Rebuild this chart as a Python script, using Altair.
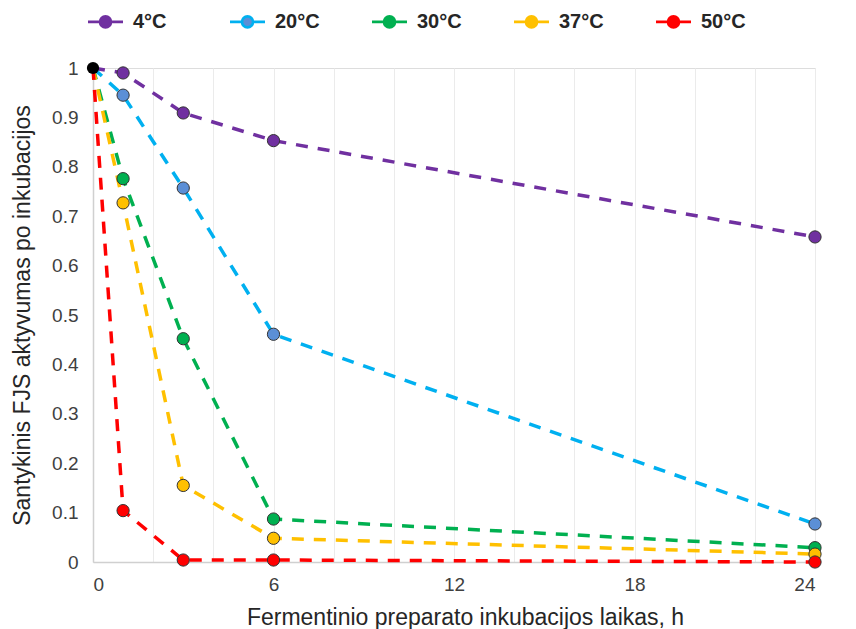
import altair as alt
import pandas as pd

hours = [0, 1, 3, 6, 24]
series_names = ["4°C", "20°C", "30°C", "37°C", "50°C"]
v4 = [1.0, 0.99, 0.909, 0.853, 0.658]
v20 = [1.0, 0.945, 0.757, 0.461, 0.077]
v30 = [1.0, 0.776, 0.452, 0.087, 0.029]
v37 = [1.0, 0.727, 0.155, 0.048, 0.016]
v50 = [1.0, 0.104, 0.004, 0.004, 0.0]
line_colors = ["#7030A0", "#00B0F0", "#00B050", "#FFC000", "#FF0000"]
point_colors = ["#7030A0", "#5B8FD6", "#00B050", "#FFC000", "#FF0000"]
x_ticks = list(range(0, 25))
y_ticks = [i / 10 for i in range(11)]

rows = []
for name, vals in zip(series_names, [v4, v20, v30, v37, v50]):
    for h, v in zip(hours, vals):
        rows.append({"h": h, "v": v, "s": name})
df = pd.DataFrame(rows)
df_pts = df[df["h"] > 0]
df_origin = pd.DataFrame({"h": [0], "v": [1.0]})

font = "Liberation Sans"

x = alt.X("h:Q", scale=alt.Scale(domain=[0, 24], nice=False),
          axis=alt.Axis(values=x_ticks, labelExpr="datum.value % 6 == 0 ? datum.label : ''",
                        title="Fermentinio preparato inkubacijos laikas, h",
                        grid=True, gridColor="#ebebeb", ticks=False,
                        domainColor="#d0d0d0", domainWidth=1.5,
                        labelFontSize=19, labelColor="#404040", labelPadding=13,
                        titleFontSize=23, titleFontWeight="normal", titleColor="#262626",
                        titlePadding=12, titleX=372))
y = alt.Y("v:Q", scale=alt.Scale(domain=[0, 1], nice=False),
          axis=alt.Axis(values=y_ticks, format=".1~f", grid=False, ticks=False,
                        domainColor="#d0d0d0", domainWidth=1.5,
                        title="Santykinis FJS  aktyvumas po inkubacijos",
                        labelFontSize=19, labelColor="#404040", labelPadding=15,
                        titleFontSize=23, titleFontWeight="normal", titleColor="#262626",
                        titlePadding=17))

legend = alt.Legend(
    orient="none", legendX=1, legendY=-58, direction="horizontal", title=None,
    symbolType="M-1.75,0L-0.58,0M0.58,0L1.75,0M-0.55,0A0.55,0.55,0,1,0,0.55,0A0.55,0.55,0,1,0,-0.55,0Z",
    symbolSize=400, symbolStrokeWidth=2.6, symbolOpacity=1,
    labelFontSize=20, labelFontWeight="bold", labelColor="#262626",
    labelOffset=16, gridAlign="all", columnPadding=46)

lines = alt.Chart(df).mark_line(strokeWidth=3.5, strokeDash=[12, 10]).encode(
    x=x, y=y,
    color=alt.Color("s:N", scale=alt.Scale(domain=series_names, range=line_colors), legend=legend),
    order="h:Q",
)
points = alt.Chart(df_pts).mark_point(filled=True, size=150, stroke="#333333", strokeWidth=1, opacity=1).encode(
    x="h:Q", y="v:Q",
    fill=alt.Fill("s:N", scale=alt.Scale(domain=series_names, range=point_colors), legend=legend),
)
origin = alt.Chart(df_origin).mark_point(filled=True, size=150, color="black", opacity=1).encode(
    x="h:Q", y="v:Q")

chart = alt.layer(lines, points, origin).properties(
    width=722, height=494,
    padding={"left": 3, "top": 2, "right": 20, "bottom": 0},
    background="white",
).configure_view(stroke=None).configure(font=font)

chart.save("out.html", embed_options={"renderer": "svg", "actions": False})
